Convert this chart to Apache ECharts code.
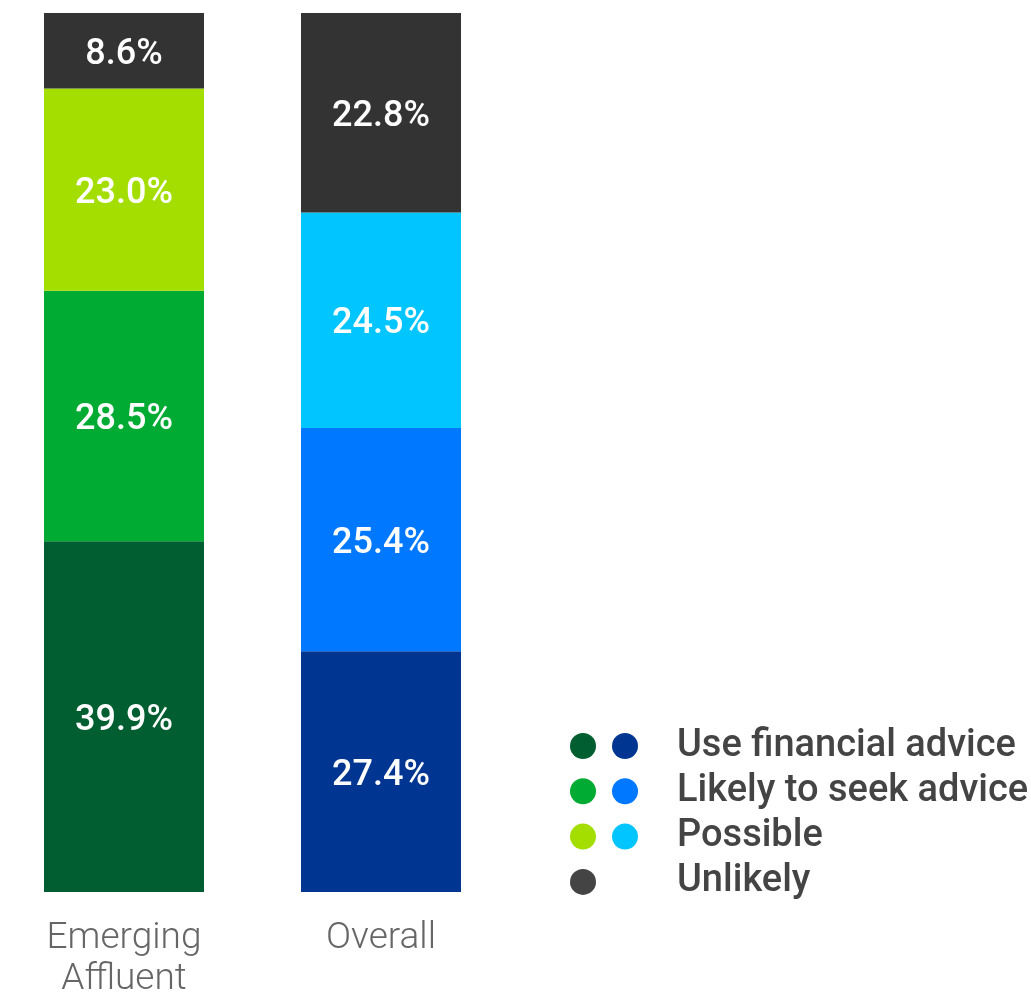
<!DOCTYPE html>
<html>
<head>
<meta charset="utf-8">
<script src="https://cdn.jsdelivr.net/npm/echarts@6/dist/echarts.min.js"></script>
<style>
  html, body { margin: 0; padding: 0; background: #fff; }
  #main { width: 1031px; height: 992px; }
</style>
</head>
<body>
<div id="main"></div>
<script>
// categories and stacked shares (bottom to top)
var groups = ['Emerging\nAffluent', 'Overall'];
var answers = ['Use financial advice', 'Likely to seek advice', 'Possible', 'Unlikely'];
var useAdvice = [39.9, 27.4];
var likelySeek = [28.5, 25.4];
var possible = [23.0, 24.5];
var unlikely = [8.6, 22.8];

var greens = ['#005e30', '#00ab33', '#a3de00', '#333333'];
var blues = ['#003591', '#0078ff', '#00c5ff', '#333333'];

var values = [useAdvice, likelySeek, possible, unlikely];

var chart = echarts.init(document.getElementById('main'));

var series = answers.map(function (name, i) {
  return {
    name: name,
    type: 'bar',
    stack: 'total',
    barWidth: 160,
    data: values[i].map(function (v, j) {
      return { value: v, itemStyle: { color: j === 0 ? greens[i] : blues[i] } };
    }),
    label: {
      show: true,
      position: 'inside',
      offset: [0, 4],
      color: '#fff',
      fontFamily: 'Roboto',
      fontWeight: 500,
      fontSize: 36,
      formatter: function (p) { return p.value.toFixed(1) + '%'; }
    }
  };
});

// custom legend: two colour columns and a label per answer
var legend = [];
answers.forEach(function (name, i) {
  var y = 746 + i * 45.3;
  legend.push({ type: 'circle', shape: { cx: 583, cy: y, r: 13 }, style: { fill: i === 3 ? '#444444' : greens[i] } });
  if (i < 3) {
    legend.push({ type: 'circle', shape: { cx: 625, cy: y, r: 13 }, style: { fill: blues[i] } });
  }
  legend.push({
    type: 'text', x: 677, y: y,
    style: { text: name, fill: '#444444', font: '500 38px Roboto', textVerticalAlign: 'middle' }
  });
});

chart.setOption({
  animation: false,
  grid: { left: -4.5, width: 514, top: 13, bottom: 100, outerBoundsMode: 'none', containLabel: false },
  xAxis: {
    type: 'category',
    data: groups,
    axisLine: { show: false },
    axisTick: { show: false },
    axisLabel: {
      color: '#666666',
      fontFamily: 'Roboto',
      fontWeight: 300,
      fontSize: 37,
      lineHeight: 41,
      margin: 26
    }
  },
  yAxis: { type: 'value', min: 0, max: 100, show: false },
  series: series,
  graphic: legend
});
</script>
</body>
</html>
